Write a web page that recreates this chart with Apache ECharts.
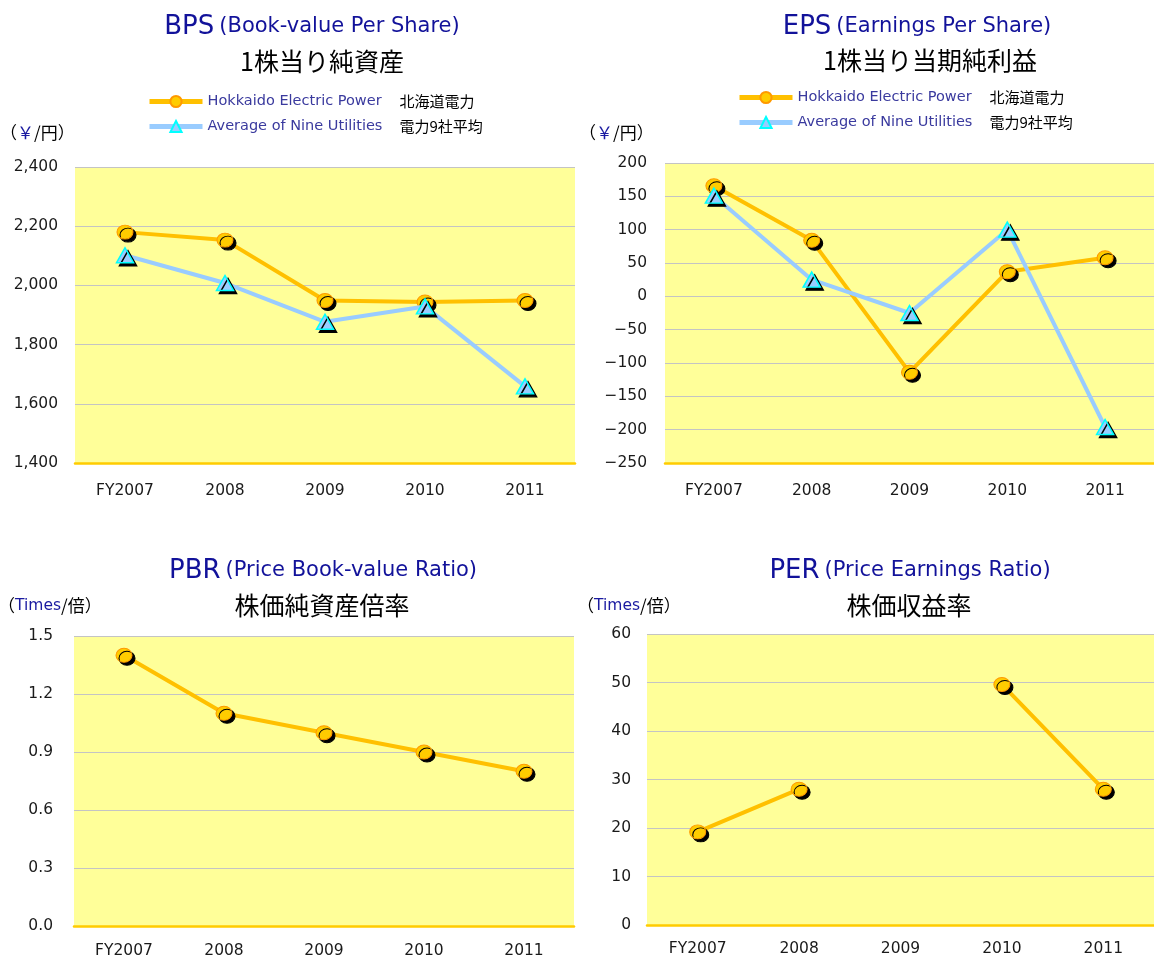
<!DOCTYPE html>
<html>
<head>
<meta charset="utf-8">
<script src="https://cdn.jsdelivr.net/npm/echarts@6/dist/echarts.min.js"></script>
<style>
  html, body { margin: 0; padding: 0; background: #fff; }
  #chart { width: 1154px; height: 960px; }
</style>
</head>
<body>
<div id="chart"></div>
<script>
// 年度カテゴリ
const years = ['FY2007', '2008', '2009', '2010', '2011'];

// BPS（円）
const bpsHokkaido = [2180, 2153, 1949, 1944, 1949];
const bpsAverage  = [2102, 2008, 1877, 1929, 1659];

// EPS（円）
const epsHokkaido = [166, 84, -114, 37, 58];
const epsAverage  = [151, 25, -25, 100, -196];

// PBR（倍）
const pbrHokkaido = [1.40, 1.10, 1.00, 0.90, 0.80];

// PER（倍）— 2009 は欠損
const perHokkaido = [19.2, 28.0, null, 49.6, 28.0];

const NAME_HK  = 'Hokkaido Electric Power';
const NAME_AVG = 'Average of Nine Utilities';

// ── 配色 ──
const C = {
  plot:    '#ffff99',
  grid:    '#c4c4c4',
  axis:    '#ffcc00',
  orange:  '#ffc000',
  orangeB: '#ff9900',
  blue:    '#99ccff',
  cyan:    '#00ffff',
  title:   '#12129a',
  legend:  '#3a3a9e',
  text:    '#1a1a1a',
};
const FONT = "'DejaVu Sans', sans-serif";
const JP   = "'Noto Sans CJK JP', sans-serif";

// 各チャートのプロット領域
const GRIDS = [
  { left: 75,  top: 167, width: 500, height: 296 },  // BPS
  { left: 665, top: 163, width: 495, height: 300 },  // EPS
  { left: 74,  top: 636, width: 500, height: 290 },  // PBR
  { left: 647, top: 634, width: 510, height: 291 },  // PER
];

function minusFmt(v) {
  return String(v).replace('-', '\u2212');
}

const Y_AXES = [
  { min: 1400, max: 2400, interval: 200, margin: 17, fmt: (v) => v.toLocaleString('en-US') },
  { min: -250, max: 200,  interval: 50,  margin: 18, fmt: minusFmt },
  { min: 0,    max: 1.5,  interval: 0.3, margin: 21, fmt: (v) => v.toFixed(1) },
  { min: 0,    max: 60,   interval: 10,  margin: 16, fmt: (v) => String(v) },
];
const X_MARGIN = [20, 20, 17, 16];

const SHADOW = { shadowColor: '#000', shadowBlur: 0, shadowOffsetX: 3, shadowOffsetY: 3 };

function hkSeries(name, idx, data) {
  return {
    name, type: 'line', xAxisIndex: idx, yAxisIndex: idx, data,
    symbol: 'circle', symbolSize: [16, 14],
    lineStyle: { color: C.orange, width: 4 },
    itemStyle: { color: '#ffcc00', borderColor: C.orangeB, borderWidth: 1, ...SHADOW },
    emphasis: { disabled: true },
    z: 2,
  };
}
function avgSeries(name, idx, data) {
  return {
    name, type: 'line', xAxisIndex: idx, yAxisIndex: idx, data,
    symbol: 'triangle', symbolSize: [17, 15],
    lineStyle: { color: C.blue, width: 4 },
    itemStyle: { color: C.blue, borderColor: C.cyan, borderWidth: 1.5, ...SHADOW },
    emphasis: { disabled: true },
    z: 3,
  };
}

function title(left, top, head, body) {
  return {
    left, top, textAlign: 'center',
    text: `{a|${head}} {b|${body}}`,
    textStyle: {
      fontWeight: 'normal',
      rich: {
        a: { fontFamily: FONT, fontSize: 26, fontWeight: 'normal', color: C.title },
        b: { fontFamily: FONT, fontSize: 21, fontWeight: 'normal', color: C.title },
      },
    },
  };
}
function subTitle(left, top, text) {
  return {
    left, top, textAlign: 'center', text,
    textStyle: { fontFamily: JP, fontSize: 25, fontWeight: 'normal', color: '#000' },
  };
}

function legend(left, top) {
  return {
    left, top, orient: 'vertical', padding: 0, itemGap: 10,
    itemWidth: 53, itemHeight: 14,
    data: [NAME_HK, NAME_AVG],
    selectedMode: false,
    lineStyle: { width: 5 },
    itemStyle: { shadowColor: 'transparent', shadowOffsetX: 0, shadowOffsetY: 0 },
    formatter: (n) => n === NAME_HK
      ? `{en|${NAME_HK}}{jp|北海道電力}`
      : `{en|${NAME_AVG}}{jp|電力9社平均}`,
    textStyle: {
      rich: {
        en: { fontFamily: FONT, fontSize: 14.5, color: C.legend, width: 192 },
        jp: { fontFamily: JP, fontSize: 15, color: '#000' },
      },
    },
  };
}

function unitLabel(x, y, mid) {
  const yen = mid === '￥';
  return {
    type: 'text', x, y,
    style: {
      text: `{p|（}{b|${mid}}{p|/${yen ? '円' : '倍'}）}`,
      rich: {
        p: { fontFamily: JP, fontSize: 17, fill: '#000' },
        b: { fontFamily: yen ? JP : FONT, fontSize: yen ? 17 : 15.5, fill: '#1a1aa0' },
      },
    },
  };
}

const option = {
  backgroundColor: '#fff',
  animation: false,
  title: [
    title(307, 9, 'BPS', '(Book-value Per Share)'),
    subTitle(317, 44, '1株当り純資産'),
    title(912, 9, 'EPS', '(Earnings Per Share)'),
    subTitle(925, 43, '1株当り当期純利益'),
    title(318, 553, 'PBR', '(Price Book-value Ratio)'),
    subTitle(317, 588, '株価純資産倍率'),
    title(905, 553, 'PER', '(Price Earnings Ratio)'),
    subTitle(904, 588, '株価収益率'),
  ],
  legend: [legend(147, 94), legend(737, 90)],
  graphic: [
    unitLabel(0, 124, '￥'),
    unitLabel(579, 124, '￥'),
    unitLabel(-2, 597, 'Times'),
    unitLabel(577, 597, 'Times'),
  ],
  grid: GRIDS.map((g) => ({
    ...g, show: true, backgroundColor: C.plot, borderWidth: 0, containLabel: false,
  })),
  xAxis: GRIDS.map((g, i) => ({
    type: 'category', gridIndex: i, data: years,
    axisLine: { onZero: false, lineStyle: { color: C.axis, width: 2.5 } },
    axisTick: { inside: true, length: 6, lineStyle: { color: '#f5c000', width: 2 } },
    axisLabel: { fontFamily: FONT, fontSize: 15.5, color: C.text, margin: X_MARGIN[i] },
    splitLine: { show: false },
    z: 5,
  })),
  yAxis: Y_AXES.map((a, i) => ({
    type: 'value', gridIndex: i, min: a.min, max: a.max, interval: a.interval,
    axisLine: { show: false },
    axisTick: { show: false },
    axisLabel: { fontFamily: FONT, fontSize: 15.5, color: C.text, margin: a.margin, formatter: a.fmt },
    splitLine: { lineStyle: { color: C.grid, width: 1 } },
  })),
  series: [
    hkSeries(NAME_HK, 0, bpsHokkaido),
    avgSeries(NAME_AVG, 0, bpsAverage),
    hkSeries(NAME_HK, 1, epsHokkaido),
    avgSeries(NAME_AVG, 1, epsAverage),
    hkSeries('PBR', 2, pbrHokkaido),
    hkSeries('PER', 3, perHokkaido),
  ],
};

const chart = echarts.init(document.getElementById('chart'), null, { renderer: 'canvas' });
chart.setOption(option);
</script>
</body>
</html>
